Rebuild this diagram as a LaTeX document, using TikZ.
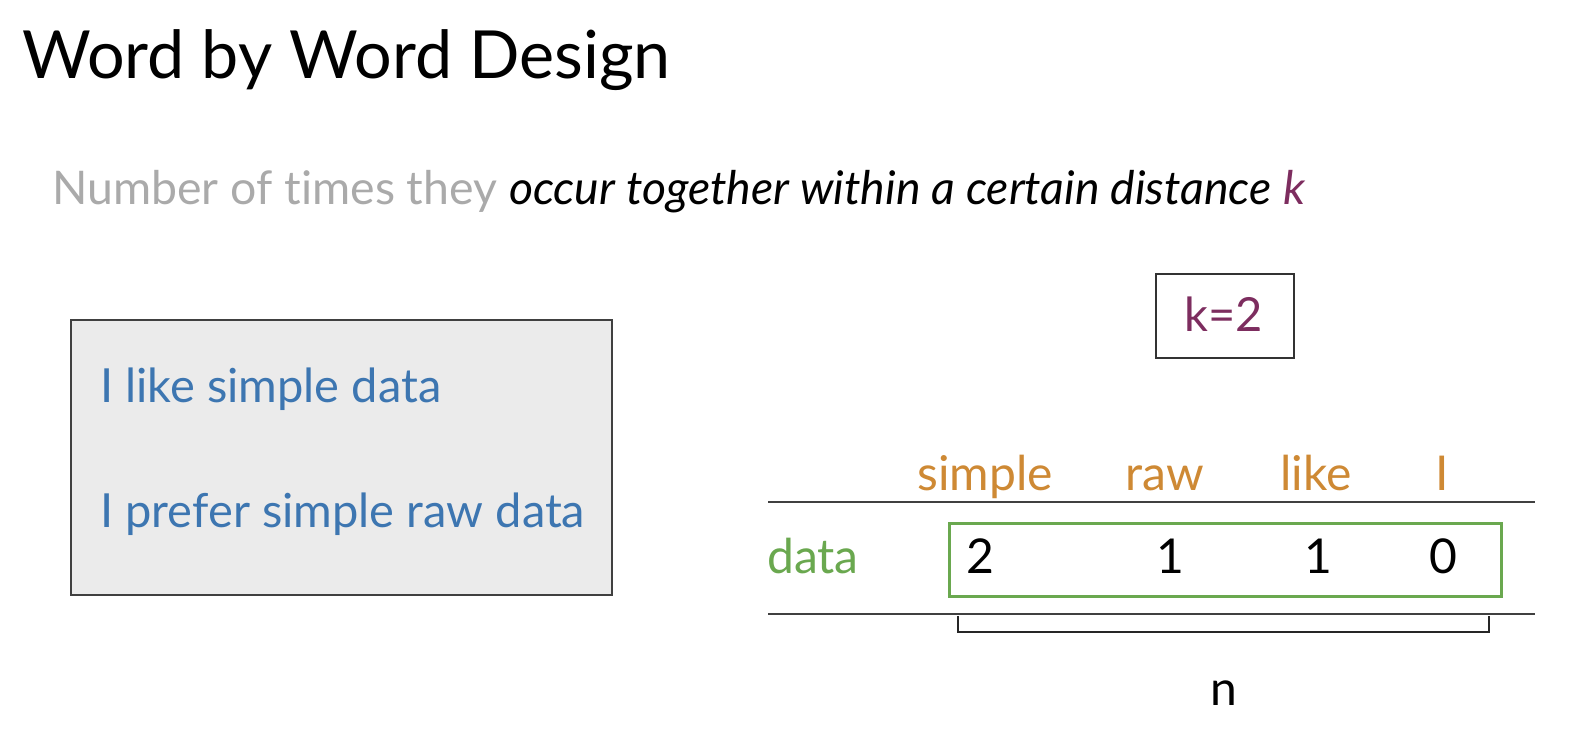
\documentclass[tikz,border=0pt]{standalone}
\usepackage{fontspec}
\setmainfont{Lato}[Ligatures=NoCommon]
\begin{document}
\definecolor{sentblue}{RGB}{61,118,177}
\definecolor{wordorange}{RGB}{206,137,52}
\definecolor{rowgreen}{RGB}{106,168,79}
\definecolor{kpurple}{RGB}{125,45,95}
\definecolor{boxgray}{RGB}{235,235,235}
\definecolor{subgray}{RGB}{170,170,170}
\begin{tikzpicture}[x=1pt,y=-1pt,
  txt/.style={inner sep=0pt,anchor=base},
  rule/.style={draw=black!75,line width=1.6pt},
  hdr/.style={txt,text=wordorange,font=\fontsize{48}{48}\selectfont},
  num/.style={txt,font=\fontsize{48}{48}\selectfont}]
\useasboundingbox[fill=white] (0,0) rectangle (1572,736);

% title and subtitle
\node[txt,anchor=base west,font=\fontsize{66.4}{66}\selectfont] (title) at (22,78) {Word by Word Design};
\node[txt,anchor=base west,font=\fontsize{46.4}{46}\selectfont] (sub) at (52,204)
  {\textcolor{subgray}{Number of times they} \textit{occur together within a certain distance} \textcolor{kpurple}{\textit{k}}};

% corpus box
\node[draw=black!75,line width=1.6pt,fill=boxgray,minimum width=541pt,minimum height=275pt,anchor=north west,inner sep=0pt] (corpus) at (70,319) {};
\node[txt,anchor=base west,text=sentblue,font=\fontsize{47}{47}\selectfont] (s1) at (100,402) {I like simple data};
\node[txt,anchor=base west,text=sentblue,font=\fontsize{47}{47}\selectfont] (s2) at (100,527) {I prefer simple raw data};

% window size
\node[draw=black!80,line width=1.6pt,minimum width=138pt,minimum height=84pt,anchor=north west,inner sep=0pt] (kbox) at (1155,273) {};
\node[txt,text=kpurple,font=\fontsize{47}{47}\selectfont] (k) at (1224,331) {k=2};

% column headers
\node[hdr] (hsimple) at (985,490) {simple};
\node[hdr] (hraw) at (1165,490) {raw};
\node[hdr] (hlike) at (1316,490) {like};
\node[hdr] (hI) at (1442,490) {I};

% table rules
\coordinate (t1) at (768,502); \coordinate (t2) at (1535,502);
\coordinate (b1) at (768,614); \coordinate (b2) at (1535,614);
\draw[rule] (t1) -- (t2);
\draw[rule] (b1) -- (b2);

% row
\node[txt,anchor=base west,text=rowgreen,font=\fontsize{48}{48}\selectfont] (rdata) at (767,573) {data};
\node[draw=rowgreen,line width=3pt,minimum width=552pt,minimum height=73pt,anchor=north west,inner sep=0pt] (vec) at (948,522) {};
\node[num] (v1) at (980,573) {2};
\node[num] (v2) at (1170,573) {1};
\node[num] (v3) at (1318,573) {1};
\node[num] (v4) at (1443,573) {0};

% bracket and its label
\coordinate (br1) at (958,616); \coordinate (br2) at (1489,616);
\draw[black!85,line width=2.6pt] (br1) -- ++(0,16) -| (br2);
\node[num] (n) at (1224,705) {n};
\end{tikzpicture}
\end{document}
